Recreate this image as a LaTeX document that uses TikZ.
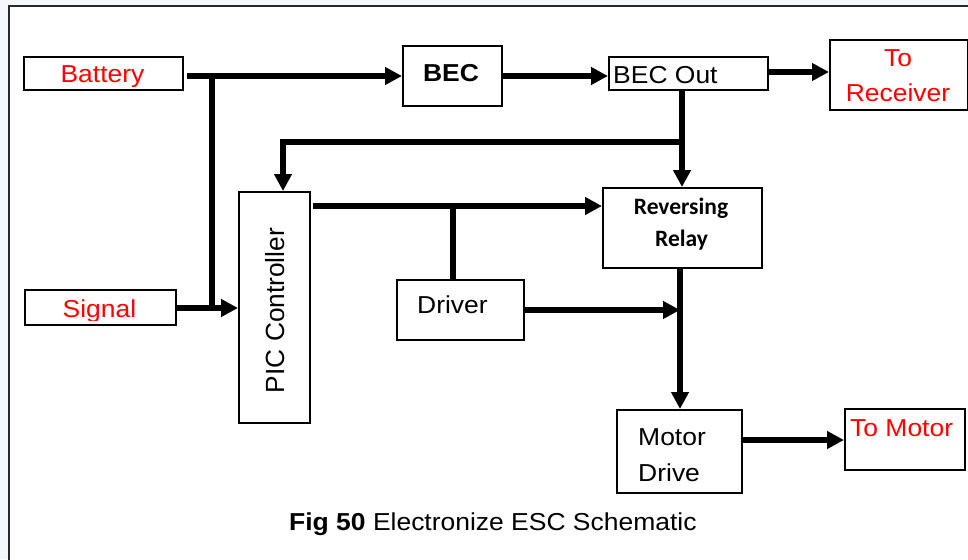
\documentclass[tikz,border=0pt]{standalone}
\usepackage{fontspec}
\setmainfont[FakeStretch=1.08]{Liberation Sans}
\newfontfamily\picfont{Liberation Sans}
\newfontfamily\calfont{Carlito}
\usetikzlibrary{arrows.meta}
\definecolor{bgblue}{RGB}{244,248,252}
\definecolor{frameclr}{RGB}{40,40,40}
\begin{document}
\begin{tikzpicture}[x=1pt,y=-1pt,
  box/.style={draw=black, line width=1.6pt, fill=white, inner sep=0pt, anchor=north west},
  conn/.style={line width=5.3pt},
  arr/.style={conn, -{Triangle[length=17pt,width=17pt]}},
  txt/.style={inner sep=0pt, font=\fontsize{24.5}{29}\selectfont},
  boldtxt/.style={inner sep=0pt, font=\calfont\bfseries\fontsize{23.5}{28}\selectfont},
  redtxt/.style={txt, text={rgb,255:red,255;green,0;blue,0}}
]
\useasboundingbox (0,0) rectangle (968,559);
\clip (0,0) rectangle (968,559);
\fill[bgblue] (0,0) rectangle (968,559);
\draw[frameclr, line width=1.5pt, fill=white] (9,6) rectangle (990,580);

% boxes
\node[box, minimum width=159pt, minimum height=33pt] (bat) at (23,56) {};
\node[box, minimum width=99pt, minimum height=60pt] (bec) at (402,45) {};
\node[box, minimum width=159pt, minimum height=33pt] (becout) at (608,56) {};
\node[box, minimum width=138pt, minimum height=70pt] (recv) at (829,39) {};
\node[box, minimum width=151pt, minimum height=35pt] (sig) at (24,289) {};
\node[box, minimum width=71pt, minimum height=231pt] (pic) at (238,191) {};
\node[box, minimum width=127pt, minimum height=60pt] (drv) at (396,279) {};
\node[box, minimum width=159pt, minimum height=80pt] (rr) at (602,187) {};
\node[box, minimum width=125pt, minimum height=83pt] (md) at (616,409) {};
\node[box, minimum width=120pt, minimum height=61pt] (tm) at (844,408) {};

% texts
\begin{scope}
\clip (23,56) rectangle (182,86.5);
\node[redtxt, anchor=base] (tbat) at (102.5,83) {Battery};
\end{scope}
\begin{scope}
\clip (24,289) rectangle (175,320.5);
\node[redtxt, anchor=base] (tsig) at (99.5,317) {Signal};
\end{scope}
\node[txt, font=\bfseries\fontsize{24.5}{29}\selectfont, anchor=base] (tbec) at (451,82) {BEC};
\node[txt, anchor=base west] (tbecout) at (613,84) {BEC Out};
\node[redtxt, anchor=base] (tto) at (898,67) {To};
\node[redtxt, anchor=base] (trecv) at (898,102) {Receiver};
\node[inner sep=0pt, font=\picfont\fontsize{26.3}{30}\selectfont, rotate=90, anchor=base] (tpic) at (284,310.5) {PIC Controller};
\node[txt, anchor=base west] (tdrv) at (417,313) {Driver};
\node[boldtxt, anchor=base] (trev) at (681,214) {Reversing};
\node[boldtxt, anchor=base] (trel) at (681.5,246) {Relay};
\node[txt, anchor=base west] (tmot) at (638,445) {Motor};
\node[txt, anchor=base west] (tdrive) at (638,481) {Drive};
\node[redtxt, anchor=base west] (ttm) at (850,436) {To Motor};
\node[txt, anchor=base west] (cap) at (289,530) {\textbf{Fig 50} Electronize ESC Schematic};

% connectors
\coordinate (j0) at (187,76);
\draw[arr] (j0) -- (j0 -| bec.west);
\coordinate (j1) at (212,76);
\coordinate (j2) at (212,308);
\draw[conn] (j1) -- (j2);
\draw[arr] (sig.east |- j2) -- (pic.west |- j2);
\coordinate (k0) at (503,76);
\draw[arr] (k0) -- (k0 -| becout.west);
\coordinate (k1) at (769,72);
\draw[arr] (k1) -- (k1 -| recv.west);
\coordinate (j3) at (682,142);
\draw[arr] (becout.south -| j3) -- (rr.north -| j3);
\coordinate (j4) at (283,142);
\draw[arr] (j3) -- (j4) -- (j4 |- pic.north);
\coordinate (j5) at (453,206);
\draw[arr] ([xshift=2pt]pic.east |- j5) -- (rr.west |- j5);
\draw[conn] (j5) -- (j5 |- drv.north);
\coordinate (j6) at (680,310);
\draw[arr] (drv.east |- j6) -- (j6);
\draw[arr] (rr.south -| j6) -- (md.north -| j6);
\coordinate (j7) at (741,440);
\draw[arr] (j7) -- (j7 -| tm.west);
\end{tikzpicture}
\end{document}
